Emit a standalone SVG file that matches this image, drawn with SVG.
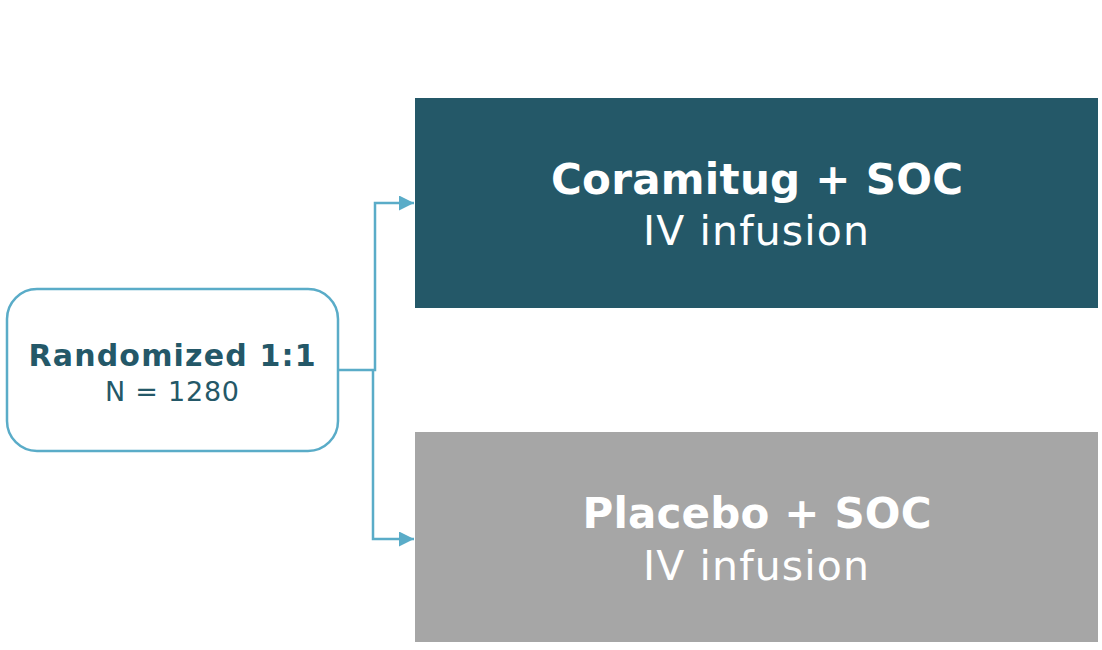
<svg xmlns="http://www.w3.org/2000/svg" width="1102" height="650" viewBox="0 0 1102 650">
<style>
.t{font-family:"DejaVu Sans",Verdana,sans-serif;text-anchor:middle}
.w{fill:#fff}
.b{font-weight:bold}
.c{fill:none;stroke:#5AACC8;stroke-width:2.5}
</style>
<defs>
<marker id="a" viewBox="0 0 10 10" refX="10" refY="5" markerWidth="6" markerHeight="6" orient="auto" markerUnits="strokeWidth">
<path d="M0,0L10,5L0,10z" fill="#5AACC8"/>
</marker>
</defs>
<rect width="1102" height="650" fill="#fff"/>
<g id="connectors">
<path class="c" d="M336,370H375V203H414" marker-end="url(#a)"/>
<path class="c" d="M373,370V539H414" marker-end="url(#a)"/>
</g>
<g id="randomized">
<rect x="7" y="289" width="331" height="162" rx="30" fill="#fff" stroke="#5AACC8" stroke-width="2.5"/>
<text class="t b" x="172" y="366" font-size="30" fill="#245868" textLength="287" lengthAdjust="spacing">Randomized 1:1</text>
<text class="t" x="172" y="401" font-size="27" fill="#245868" textLength="134" lengthAdjust="spacing">N = 1280</text>
</g>
<g id="coramitug">
<rect x="415" y="98" width="683" height="210" fill="#245868"/>
<text class="t w b" x="757" y="194" font-size="42" textLength="412" lengthAdjust="spacing">Coramitug + SOC</text>
<text class="t w" x="756" y="245" font-size="41" textLength="226" lengthAdjust="spacing">IV infusion</text>
</g>
<g id="placebo">
<rect x="415" y="432" width="683" height="210" fill="#A6A6A6"/>
<text class="t w b" x="757" y="528" font-size="42" textLength="349" lengthAdjust="spacing">Placebo + SOC</text>
<text class="t w" x="756" y="580" font-size="41" textLength="226" lengthAdjust="spacing">IV infusion</text>
</g>
</svg>
